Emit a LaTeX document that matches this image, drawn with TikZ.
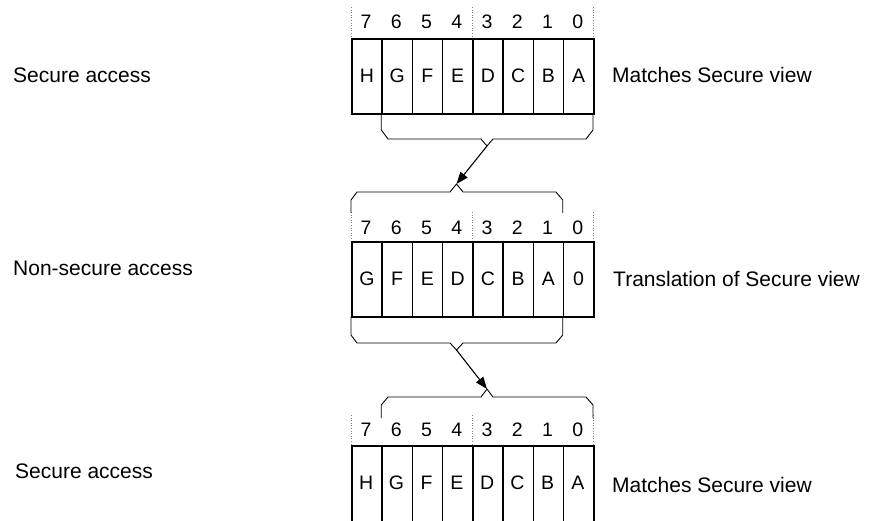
\documentclass[tikz,border=0pt]{standalone}
\usepackage{fontspec}
\setmainfont{Liberation Sans}
\usetikzlibrary{arrows.meta}
\tikzset{
  cell/.style={draw, line width=1.5pt, minimum width=30.25pt, minimum height=75pt,
    inner sep=0pt, anchor=north west, font=\fontsize{19.5}{23}\selectfont},
  bitno/.style={inner sep=0pt, font=\fontsize{19.5}{23}\selectfont},
  tick/.style={gray, dotted, line width=0.6pt},
  sidetext/.style={inner sep=0pt, anchor=base west, font=\fontsize{21}{25}\selectfont},
  brace/.style={line width=0.9pt, line join=round},
  move/.style={line width=1.1pt, -{Triangle[length=12pt,width=9pt]}}
}
\begin{document}
\begin{tikzpicture}[x=1pt,y=-1pt]
\useasboundingbox (0,0) rectangle (871,520);
\foreach \x in {351,472,593}
  \draw[tick] (\x,7) -- (\x,38) (\x,212) -- (\x,241) (\x,415) -- (\x,445);
\foreach \b [count=\i from 0] in {7,6,...,0} {
  \node[bitno] (btop\b) at (366.1+30.25*\i,22) {\b};
  \node[bitno] (bmid\b) at (366.1+30.25*\i,227.5) {\b};
  \node[bitno] (bbot\b) at (366.1+30.25*\i,430) {\b};
}
\foreach \l [count=\i from 0] in {H,G,F,E,D,C,B,A}
  \node[cell] (top\i) at (351+30.25*\i,38) {\l};
\foreach \l [count=\i from 0] in {G,F,E,D,C,B,A,0}
  \node[cell] (mid\i) at (351+30.25*\i,241) {\l};
\foreach \l [count=\i from 0] in {H,G,F,E,D,C,B,A}
  \node[cell, minimum height=85pt] (bot\i) at (351+30.25*\i,445) {};
\foreach \l [count=\i from 0] in {H,G,F,E,D,C,B,A}
  \node[bitno] (lbot\i) at (366.1+30.25*\i,482.5) {\l};
\coordinate (n1) at (487,146);
\coordinate (n2) at (456.5,184);
\coordinate (n3) at (456.5,350);
\coordinate (n4) at (487,389);
\draw[brace] (381.25,113) -- (381.25,130) -- (388,139) -- (481,139) -- (n1)
  -- (493,139) -- (586,139) -- (593,130) -- (593,113);
\draw[brace] (351,213) -- (351,200) -- (357,192) -- (450,192) -- (n2)
  -- (463,192) -- (556,192) -- (562.75,200) -- (562.75,213);
\draw[brace] (351,317) -- (351,335) -- (357,343) -- (450,343) -- (n3)
  -- (463,343) -- (556,343) -- (562.75,335) -- (562.75,317);
\draw[brace] (381.25,418) -- (381.25,405) -- (388,397) -- (481,397) -- (n4)
  -- (493,397) -- (586,397) -- (593,405) -- (593,418);
\draw[move] (n1) -- (n2);
\draw[move] (n3) -- (n4);
\node[sidetext] (sec1) at (13,82) {Secure access};
\node[sidetext] (nsec) at (13,275) {Non-secure access};
\node[sidetext] (sec2) at (15,478) {Secure access};
\node[sidetext] (view1) at (612,82) {Matches Secure view};
\node[sidetext] (view2) at (613,286) {Translation of Secure view};
\node[sidetext] (view3) at (612,492) {Matches Secure view};
\end{tikzpicture}
\end{document}
